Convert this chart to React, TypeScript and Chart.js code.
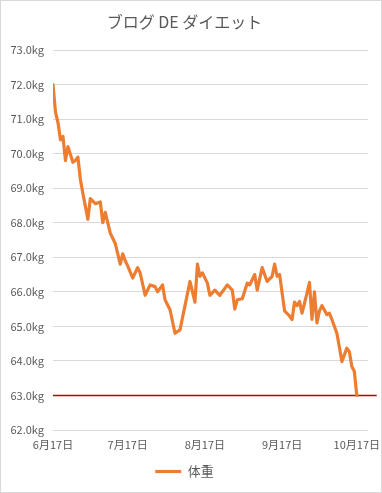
import React, { useEffect, useRef } from "react";
import { Chart, registerables } from "chart.js";

Chart.register(...registerables);

const titleText = "ブログ DE ダイエット";
const seriesName = "体重";

// days since 6月17日
const days = [
  0, 1, 2, 3, 4, 5, 6, 8, 9, 10, 11, 12, 14, 15, 17, 19, 20, 21, 23, 25, 27, 28, 29, 30, 32,
  34, 35, 37, 39, 41, 42, 44, 45, 47, 49, 51, 55, 57, 58, 59, 60, 62, 63, 65, 67, 70, 72,
  73, 74, 76, 78, 79, 81, 82, 84, 86, 88, 89, 90, 91, 93, 95, 96, 97, 98, 99, 100, 102,
  103, 104, 105, 106, 107, 108, 110, 111, 112, 114, 115, 116, 118, 119, 120, 121, 122,
];
const weights = [
  72.0, 71.2, 70.9, 70.4, 70.5, 69.8, 70.2, 69.75, 69.8, 69.9, 69.25, 68.85, 68.1, 68.7,
  68.55, 68.6, 68.0, 68.3, 67.7, 67.4, 66.8, 67.1, 66.9, 66.75, 66.4, 66.7, 66.55, 65.9,
  66.2, 66.15, 66.0, 66.2, 65.77, 65.48, 64.8, 64.9, 66.3, 65.7, 66.8, 66.45, 66.55, 66.25,
  65.9, 66.05, 65.9, 66.2, 66.05, 65.5, 65.77, 65.8, 66.25, 66.2, 66.5, 66.05, 66.7, 66.3,
  66.45, 66.8, 66.45, 66.5, 65.45, 65.3, 65.2, 65.7, 65.6, 65.72, 65.38, 65.96, 66.27,
  65.2, 66.0, 65.1, 65.45, 65.6, 65.34, 65.38, 65.2, 64.8, 64.4, 63.98, 64.37, 64.27,
  63.84, 63.7, 63.0,
];

const targetDays = [0, 130];
const targetWeight = 63.0;

const xTickDays = [0, 30, 61, 92, 122];
const xTickLabels = ["6月17日", "7月17日", "8月17日", "9月17日", "10月17日"];

const FONT = "'Noto Sans CJK JP', 'Noto Sans', sans-serif";
const TEXT = "#595959";

export default function App() {
  const ref = useRef<HTMLCanvasElement>(null);
  useEffect(() => {
    document.body.style.margin = "0";
    const ctx = ref.current!;
    const chart = new Chart(ctx, {
      type: "line",
      data: {
        datasets: [
          {
            label: seriesName,
            data: days.map((d, i) => ({ x: d, y: weights[i] })),
            borderColor: "#ED7D31",
            backgroundColor: "#ED7D31",
            borderWidth: 3.2,
            pointRadius: 0,
            tension: 0,
            borderJoinStyle: "round",
            borderCapStyle: "round",
          },
          {
            label: "target",
            data: targetDays.map((d) => ({ x: d, y: targetWeight })),
            borderColor: "#C00000",
            backgroundColor: "#C00000",
            borderWidth: 1.5,
            pointRadius: 0,
            clip: false,
          },
        ],
      },
      options: {
        animation: false,
        responsive: false,
        layout: { padding: { left: 0, right: 13, top: 4, bottom: 4 } },
        plugins: {
          title: {
            display: true,
            text: titleText,
            color: TEXT,
            font: { family: FONT, size: 16, weight: "normal" },
            padding: { top: 7, bottom: 18.8 },
          },
          legend: {
            position: "bottom",
            labels: {
              filter: (item) => item.text === seriesName,
              color: TEXT,
              font: { family: FONT, size: 13 },
              usePointStyle: true,
              pointStyle: "line",
              pointStyleWidth: 26,
              padding: 9,
            },
          },
          tooltip: { enabled: false },
        },
        scales: {
          x: {
            type: "linear",
            min: 0,
            max: 126.5,
            grid: { display: false, drawTicks: false },
            border: { display: false },
            afterBuildTicks: (scale) => {
              scale.ticks = xTickDays.map((v) => ({ value: v }));
            },
            afterFit: (scale) => {
              scale.height = 26;
              scale.paddingLeft = 0;
              scale.paddingRight = 0;
            },
            ticks: {
              autoSkip: false,
              maxRotation: 0,
              padding: 8,
              color: TEXT,
              font: { family: FONT, size: 11 },
              callback: (_v, i) => xTickLabels[i],
            },
          },
          y: {
            min: 62,
            max: 73,
            grid: { color: "#d9d9d9", lineWidth: 1, drawTicks: false },
            border: { display: false },
            afterFit: (scale) => {
              scale.width = 52;
            },
            ticks: {
              stepSize: 1,
              padding: 9,
              color: TEXT,
              font: { family: FONT, size: 11 },
              callback: (v) => Number(v).toFixed(1) + "kg",
            },
          },
        },
      },
    });
    return () => chart.destroy();
  }, []);
  return (
    <div style={{ width: 382, height: 493, border: "1px solid #d9d9d9", boxSizing: "border-box", background: "#fff" }}>
      <canvas ref={ref} width={380} height={491} style={{ display: "block" }} />
    </div>
  );
}
